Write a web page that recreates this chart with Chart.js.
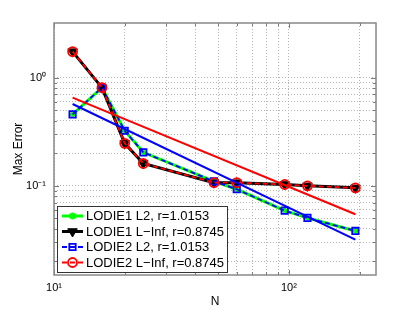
<!DOCTYPE html>
<html>
<head>
<meta charset="utf-8">
<script src="https://cdn.jsdelivr.net/npm/chart.js@4/dist/chart.umd.min.js"></script>
<style>
    html, body { margin: 0; padding: 0; background: #fff; }
</style>
</head>
<body>
<canvas id="grafica" width="415" height="310"></canvas>
<script>

// datos
const valoresN = [12, 16, 20, 24, 48, 60, 96, 120, 192];
const errorL2 = [0.458, 0.808, 0.323, 0.204, 0.110, 0.093, 0.059, 0.0506, 0.0383];
const errorLInf = [1.74, 0.808, 0.247, 0.161, 0.107, 0.107, 0.103, 0.100, 0.0958];

// rectas de ajuste (extremos)
const ajusteN = [12, 192];
const ajusteL2 = [0.571, 0.0319];
const ajusteLInf = [0.653, 0.0547];

const etiquetas = [
    'LODIE1 L2, r=1.0153',
    'LODIE1 L\u2212Inf, r=0.8745',
    'LODIE2 L2, r=1.0153',
    'LODIE2 L\u2212Inf, r=0.8745'
];

const xMayores = [10, 100];
const xEtiquetas = ['10\u00b9', '10\u00b2'];
const yMayores = [0.1, 1];
const yEtiquetas = ['10\u207b\u00b9', '10\u2070'];

const fuente = "'Liberation Sans', Arial, Helvetica, sans-serif";

function puntos(xs, ys) {
    return xs.map((x, i) => ({ x: x, y: ys[i] }));
}

// lineas de rejilla 1..9 x 10^k
function rejillaLog(min, max) {
    let lista = [];
    for (let e = Math.floor(Math.log10(min)); e <= Math.ceil(Math.log10(max)); e++) {
        for (let m = 1; m < 10; m++) {
            let v = m * Math.pow(10, e);
            if (v >= min * 0.9999 && v <= max * 1.0001) lista.push({ value: v });
        }
    }
    return lista;
}

function etiquetaDe(mayores, textos, value) {
    let i = mayores.findIndex(v => Math.abs(v - value) / v < 1e-6);
    return i >= 0 ? textos[i] : '';
}

// marco y marcas hacia dentro
const marcoPlugin = {
    id: 'marco',
    beforeDatasetsDraw(chart) {
        const { ctx, chartArea: a, scales } = chart;
        ctx.save();
        ctx.strokeStyle = '#7a7a7a';
        ctx.lineWidth = 1;
        scales.x.ticks.forEach(t => {
            let px = Math.round(scales.x.getPixelForValue(t.value)) + 0.5;
            let l = xMayores.some(v => Math.abs(v - t.value) / v < 1e-6) ? 5 : 3;
            ctx.beginPath();
            ctx.moveTo(px, a.bottom); ctx.lineTo(px, a.bottom - l);
            ctx.moveTo(px, a.top); ctx.lineTo(px, a.top + l);
            ctx.stroke();
        });
        scales.y.ticks.forEach(t => {
            let py = Math.round(scales.y.getPixelForValue(t.value)) + 0.5;
            let l = yMayores.some(v => Math.abs(v - t.value) / v < 1e-6) ? 5 : 3;
            ctx.beginPath();
            ctx.moveTo(a.left, py); ctx.lineTo(a.left + l, py);
            ctx.moveTo(a.right, py); ctx.lineTo(a.right - l, py);
            ctx.stroke();
        });
        ctx.lineWidth = 1.5;
        ctx.strokeStyle = '#888';
        ctx.strokeRect(a.left, a.top, a.right - a.left, a.bottom - a.top);
        ctx.restore();
    }
};

// leyenda dentro del area del grafico
const leyendaPlugin = {
    id: 'leyendaMatlab',
    afterDraw(chart) {
        const ctx = chart.ctx;
        const caja = { x: 57.5, y: 206.5, w: 170, h: 66 };
        const paso = 15.5;
        const y0 = 216;
        ctx.save();
        ctx.fillStyle = '#fff';
        ctx.fillRect(caja.x, caja.y, caja.w, caja.h);
        ctx.strokeStyle = '#333';
        ctx.lineWidth = 1;
        ctx.strokeRect(caja.x, caja.y, caja.w, caja.h);

        chart.data.datasets.slice(0, 4).forEach((ds, i) => {
            let y = y0 + i * paso;
            ctx.save();
            ctx.strokeStyle = ds.borderColor;
            ctx.lineWidth = ds.borderWidth;
            ctx.setLineDash(ds.borderDash || []);
            ctx.beginPath();
            ctx.moveTo(62, y);
            ctx.lineTo(83, y);
            ctx.stroke();
            ctx.restore();

            ctx.save();
            ctx.fillStyle = ds.pointBackgroundColor;
            ctx.strokeStyle = ds.pointBorderColor;
            ctx.lineWidth = ds.pointBorderWidth;
            Chart.helpers.drawPoint(ctx, {
                pointStyle: ds.pointStyle,
                rotation: ds.pointRotation || 0,
                radius: ds.leyendaRadio,
                borderWidth: ds.pointBorderWidth
            }, 72.5, y);
            ctx.restore();

            ctx.fillStyle = '#000';
            ctx.font = '13px ' + fuente;
            ctx.textBaseline = 'middle';
            ctx.fillText(ds.label, 86, y + 0.5);
        });
        ctx.restore();
    }
};

const renderGrafica = () => {

    const data = {
        datasets: [{
            label: etiquetas[0],
            data: puntos(valoresN, errorL2),
            borderColor: '#00ff00',
            borderWidth: 3,
            pointStyle: 'circle',
            pointRadius: 2.2,
            pointBackgroundColor: '#00ff00',
            pointBorderColor: '#00ff00',
            pointBorderWidth: 1,
            leyendaRadio: 3,
            order: 6
        }, {
            label: etiquetas[1],
            data: puntos(valoresN, errorLInf),
            borderColor: '#000000',
            borderWidth: 3,
            pointStyle: 'triangle',
            pointRotation: 180,
            pointRadius: 5.5,
            pointBackgroundColor: '#000000',
            pointBorderColor: '#000000',
            pointBorderWidth: 1,
            leyendaRadio: 5.5,
            order: 5
        }, {
            label: etiquetas[2],
            data: puntos(valoresN, errorL2),
            borderColor: '#0000ff',
            borderWidth: 1.8,
            borderDash: [5, 3],
            pointStyle: 'rect',
            pointRadius: 4.5,
            pointBackgroundColor: 'rgba(0,0,0,0)',
            pointBorderColor: '#0000ff',
            pointBorderWidth: 1.8,
            leyendaRadio: 4.5,
            order: 4
        }, {
            label: etiquetas[3],
            data: puntos(valoresN, errorLInf),
            borderColor: '#ff0000',
            borderWidth: 1.8,
            borderDash: [5, 3],
            pointStyle: 'circle',
            pointRadius: 4.5,
            pointBackgroundColor: 'rgba(0,0,0,0)',
            pointBorderColor: '#ff0000',
            pointBorderWidth: 1.8,
            leyendaRadio: 4.5,
            order: 3
        }, {
            label: 'ajuste L2',
            data: puntos(ajusteN, ajusteL2),
            borderColor: '#0000ff',
            borderWidth: 2,
            pointRadius: 0,
            order: 2
        }, {
            label: 'ajuste LInf',
            data: puntos(ajusteN, ajusteLInf),
            borderColor: '#ff0000',
            borderWidth: 2,
            pointRadius: 0,
            order: 1
        }]
    };

    new Chart('grafica', {
        type: 'scatter',
        data: data,
        options: {
            responsive: false,
            animation: false,
            devicePixelRatio: 1,
            showLine: true,
            layout: {
                padding: { top: 23, right: 39, left: 0, bottom: 0 }
            },
            plugins: {
                legend: { display: false },
                tooltip: { enabled: false }
            },
            scales: {
                x: {
                    type: 'logarithmic',
                    min: 10,
                    max: 235,
                    afterFit: (s) => { s.height = 35; },
                    afterBuildTicks: (s) => { s.ticks = rejillaLog(10, 235); },
                    ticks: {
                        autoSkip: false,
                        maxRotation: 0,
                        padding: 6,
                        color: '#000',
                        font: { family: fuente, size: 11 },
                        callback: (value) => etiquetaDe(xMayores, xEtiquetas, value)
                    },
                    grid: { color: '#b4b4b4', lineWidth: 1, drawTicks: false },
                    border: { display: false, dash: [1, 2] },
                    title: {
                        display: true,
                        text: 'N',
                        color: '#000',
                        font: { family: fuente, size: 12 },
                        padding: { top: 0, bottom: 1 }
                    }
                },
                y: {
                    type: 'logarithmic',
                    min: 0.015,
                    max: 3.2,
                    afterFit: (s) => { s.width = 54; },
                    afterBuildTicks: (s) => { s.ticks = rejillaLog(0.02, 1); },
                    ticks: {
                        autoSkip: false,
                        padding: 8,
                        color: '#000',
                        font: { family: fuente, size: 11 },
                        callback: (value) => etiquetaDe(yMayores, yEtiquetas, value)
                    },
                    grid: { color: '#b4b4b4', lineWidth: 1, drawTicks: false },
                    border: { display: false, dash: [1, 2] },
                    title: {
                        display: true,
                        text: 'Max Error',
                        color: '#000',
                        font: { family: fuente, size: 12 },
                        padding: { top: 11, bottom: 0 }
                    }
                }
            }
        },
        plugins: [marcoPlugin, leyendaPlugin]
    });
}

renderGrafica();

</script>
</body>
</html>
